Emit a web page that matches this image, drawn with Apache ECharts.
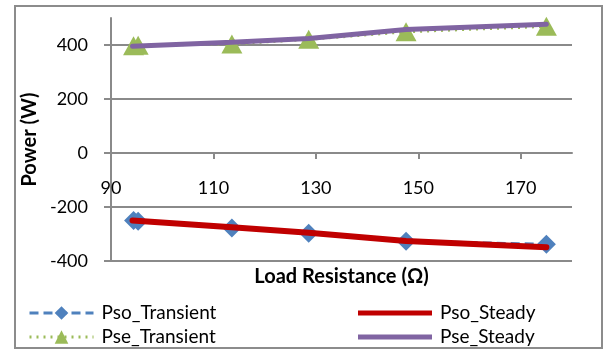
<!DOCTYPE html>
<html>
<head>
<meta charset="utf-8">
<script src="https://cdn.jsdelivr.net/npm/echarts@6/dist/echarts.min.js"></script>
<style>
  html, body { margin: 0; padding: 0; background: #fff; }
  #chart { width: 612px; height: 351px; }
</style>
</head>
<body>
<div id="chart"></div>
<script>
// Load resistance (ohm) for each simulation run
const transientR = [94.4, 95.3, 113.6, 128.6, 147.6, 175.0];
const steadyR = [94.2, 113.6, 128.6, 147.6, 175.0];

// Output / source power (W)
const psoTransient = [-250, -253, -278, -297, -327, -338];
const psoSteady = [-250, -275, -295, -326, -349];
const pseTransient = [397, 399, 404, 421, 449, 469];
const pseSteady = [395, 410, 424, 457, 477];

const xTicks = [90, 110, 130, 150, 170];
const yTicks = [-400, -200, 0, 200, 400];

const FONT = 'Lato, "Open Sans", sans-serif';
const GRID_GRAY = '#8a8a8a';

// plot box and power range; the x axis is lifted to sit on the zero line
const PLOT_TOP = 18, PLOT_BOTTOM = 90, CHART_H = 351;
const Y_MIN = -400, Y_MAX = 500;
const plotHeight = CHART_H - PLOT_TOP - PLOT_BOTTOM;
const zeroLift = plotHeight * (0 - Y_MIN) / (Y_MAX - Y_MIN);

function pairs(xs, ys) {
  return xs.map((x, i) => [x, ys[i]]);
}

// one legend box per entry so the 2x2 arrangement stays fixed
function legendBox(name, left, top, width, icon) {
  const item = icon ? { name: name, icon: icon } : { name: name };
  return {
    orient: 'horizontal',
    left: left,
    top: top,
    padding: 0,
    itemWidth: width,
    itemHeight: icon ? 5 : 17,
    itemGap: 0,
    lineStyle: { width: 3 },
    textStyle: { fontFamily: FONT, fontSize: 19, lineHeight: 20, color: '#000', padding: [0, 0, 0, 3] },
    data: [item]
  };
}

const chart = echarts.init(document.getElementById('chart'), null, { renderer: 'canvas' });

chart.setOption({
  animation: false,
  backgroundColor: '#ffffff',
  textStyle: { fontFamily: FONT },
  graphic: [{
    type: 'rect',
    shape: { x: 15, y: 6, width: 587, height: 342 },
    style: { fill: 'none', stroke: '#8c8c8c', lineWidth: 2 },
    silent: true
  }],
  grid: { left: 111, top: PLOT_TOP, right: 40, bottom: PLOT_BOTTOM, containLabel: false, outerBoundsMode: 'none' },
  xAxis: {
    type: 'value',
    position: 'bottom',
    offset: -zeroLift,
    min: 90,
    max: 180,
    interval: 10,
    name: 'Load Resistance (\u03a9)',
    nameLocation: 'middle',
    nameGap: 114,
    nameTextStyle: { fontFamily: FONT, fontSize: 20, fontWeight: 'bold', color: '#000' },
    axisLine: { onZero: false, lineStyle: { color: GRID_GRAY, width: 2 } },
    axisTick: { show: true, length: 6, customValues: xTicks, lineStyle: { color: GRID_GRAY, width: 2 } },
    axisLabel: { customValues: xTicks, margin: 26, fontFamily: FONT, fontSize: 18, color: '#000' },
    splitLine: { show: false }
  },
  yAxis: {
    type: 'value',
    min: Y_MIN,
    max: Y_MAX,
    interval: 100,
    name: 'Power (W)',
    nameLocation: 'middle',
    nameGap: 66,
    nameTextStyle: { fontFamily: FONT, fontSize: 20, fontWeight: 'bold', color: '#000' },
    axisLine: { show: true, onZero: false, lineStyle: { color: GRID_GRAY, width: 2 } },
    axisTick: { show: true, length: 7, customValues: yTicks, lineStyle: { color: GRID_GRAY, width: 2 } },
    axisLabel: { customValues: yTicks, margin: 23, fontFamily: FONT, fontSize: 18, color: '#000' },
    splitLine: { show: true, lineStyle: { color: GRID_GRAY, width: 2 } }
  },
  legend: [
    legendBox('Pso_Transient', 28, 303, 64),
    legendBox('Pse_Transient', 28, 327, 64),
    legendBox('Pso_Steady', 358, 303, 74, 'rect'),
    legendBox('Pse_Steady', 358, 327, 74, 'rect')
  ],
  series: [{
    name: 'Pso_Transient',
    type: 'line',
    data: pairs(transientR, psoTransient),
    symbol: 'diamond',
    symbolSize: 19,
    itemStyle: { color: '#4f81bd' },
    lineStyle: { color: '#4f81bd', width: 3, type: [9, 5] },
    z: 2
  }, {
    name: 'Pse_Transient',
    type: 'line',
    data: pairs(transientR, pseTransient),
    symbol: 'triangle',
    symbolSize: [21, 19],
    itemStyle: { color: '#9bbb59' },
    lineStyle: { color: '#9bbb59', width: 3, type: [2, 5] },
    z: 2
  }, {
    name: 'Pso_Steady',
    type: 'line',
    data: pairs(steadyR, psoSteady),
    symbol: 'none',
    itemStyle: { color: '#c00000' },
    lineStyle: { color: '#c00000', width: 6, cap: 'round' },
    z: 3
  }, {
    name: 'Pse_Steady',
    type: 'line',
    data: pairs(steadyR, pseSteady),
    symbol: 'none',
    itemStyle: { color: '#8064a2' },
    lineStyle: { color: '#8064a2', width: 5, cap: 'round' },
    z: 3
  }]
});
</script>
</body>
</html>
